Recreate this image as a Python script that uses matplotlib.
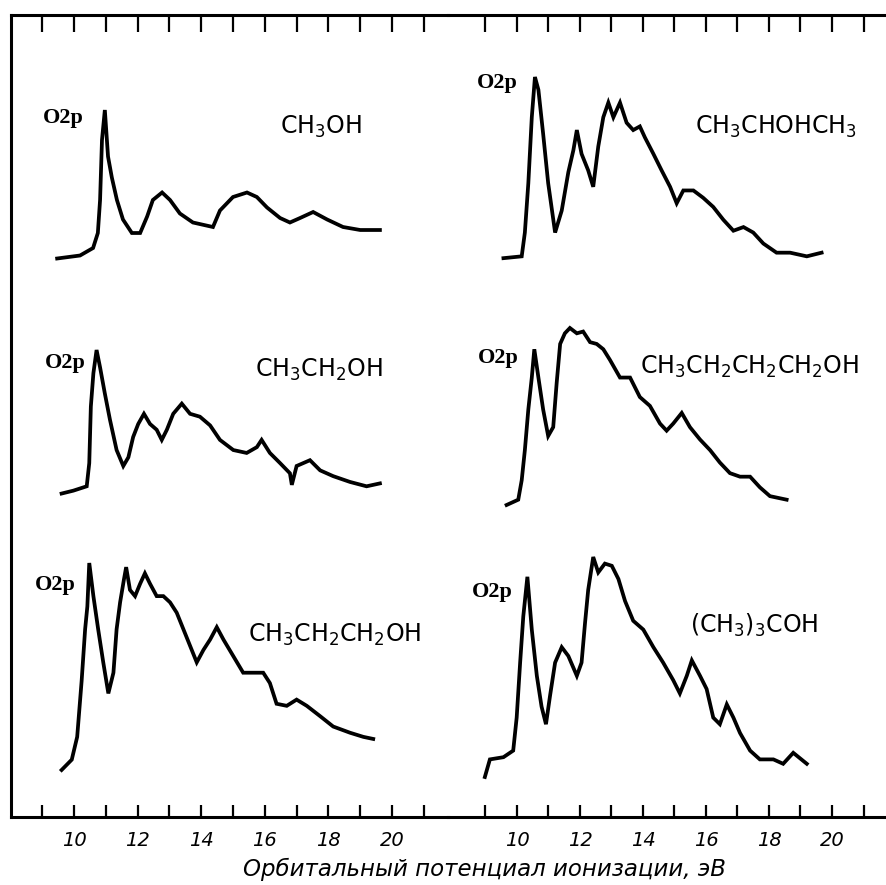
import numpy as np
import matplotlib.pyplot as plt
from matplotlib import font_manager

# narrow face for labels if the system has one
names = {f.name for f in font_manager.fontManager.ttflist}
narrow = 'Liberation Sans Narrow' if 'Liberation Sans Narrow' in names else 'DejaVu Sans'
plt.rcParams['mathtext.fontset'] = 'custom'
plt.rcParams['mathtext.rm'] = narrow
plt.rcParams['mathtext.bf'] = narrow + ':bold'

# photoelectron spectra, energy (eV) and relative intensity
e_ch3oh = [9.47, 10.19, 10.60, 10.75, 10.82, 10.88, 10.97, 11.07, 11.19, 11.35, 11.54, 11.82,
           12.08, 12.30, 12.48, 12.77, 13.02, 13.33, 13.74, 14.37, 14.59, 15.00, 15.44, 15.75,
           16.07, 16.48, 16.79, 17.11, 17.52, 17.96, 18.46, 19.00, 19.62]
i_ch3oh = [0.01, 0.03, 0.08, 0.18, 0.40, 0.80, 1.00, 0.69, 0.55, 0.40, 0.27, 0.18,
           0.18, 0.29, 0.40, 0.45, 0.40, 0.31, 0.25, 0.22, 0.33, 0.42, 0.45, 0.42,
           0.35, 0.28, 0.25, 0.28, 0.32, 0.27, 0.22, 0.20, 0.20]

e_ipa = [9.57, 10.15, 10.25, 10.36, 10.47, 10.57, 10.68, 10.83, 10.99, 11.21, 11.42, 11.63,
         11.79, 11.90, 12.05, 12.26, 12.42, 12.58, 12.74, 12.90, 13.06, 13.27, 13.48, 13.69,
         13.90, 14.06, 14.33, 14.59, 14.86, 15.07, 15.28, 15.60, 15.91, 16.23, 16.55, 16.87,
         17.19, 17.50, 17.82, 18.24, 18.67, 19.20, 19.67]
i_ipa = [0.01, 0.02, 0.15, 0.42, 0.78, 1.00, 0.93, 0.69, 0.42, 0.15, 0.27, 0.48,
         0.60, 0.71, 0.58, 0.49, 0.40, 0.62, 0.78, 0.86, 0.78, 0.86, 0.75, 0.71,
         0.73, 0.67, 0.58, 0.49, 0.40, 0.31, 0.38, 0.38, 0.34, 0.29, 0.22, 0.16,
         0.18, 0.15, 0.09, 0.04, 0.04, 0.02, 0.04]

e_etoh = [9.61, 9.98, 10.40, 10.48, 10.53, 10.61, 10.71, 10.82, 10.97, 11.13, 11.34, 11.55,
          11.71, 11.86, 12.02, 12.20, 12.39, 12.60, 12.76, 12.92, 13.12, 13.39, 13.65, 13.96,
          14.28, 14.59, 15.01, 15.43, 15.75, 15.90, 16.16, 16.48, 16.79, 16.85, 17.00, 17.42,
          17.74, 18.15, 18.68, 19.20, 19.62]
i_etoh = [0.01, 0.03, 0.06, 0.22, 0.61, 0.84, 1.00, 0.88, 0.70, 0.52, 0.31, 0.20,
          0.26, 0.40, 0.49, 0.56, 0.49, 0.45, 0.38, 0.45, 0.56, 0.63, 0.56, 0.54,
          0.48, 0.38, 0.31, 0.29, 0.33, 0.38, 0.29, 0.22, 0.15, 0.07, 0.20, 0.24,
          0.17, 0.13, 0.09, 0.06, 0.08]

e_buoh = [9.67, 10.04, 10.15, 10.25, 10.36, 10.47, 10.55, 10.68, 10.83, 10.99, 11.15, 11.26,
          11.37, 11.52, 11.68, 11.90, 12.10, 12.32, 12.53, 12.74, 12.95, 13.27, 13.59, 13.90,
          14.22, 14.54, 14.75, 14.96, 15.23, 15.49, 15.81, 16.13, 16.44, 16.76, 17.08, 17.40,
          17.71, 18.03, 18.56]
i_buoh = [0.00, 0.03, 0.14, 0.31, 0.54, 0.72, 0.88, 0.72, 0.54, 0.39, 0.44, 0.69,
          0.91, 0.97, 1.00, 0.97, 0.98, 0.92, 0.91, 0.88, 0.82, 0.72, 0.72, 0.61,
          0.56, 0.46, 0.42, 0.46, 0.52, 0.44, 0.37, 0.31, 0.24, 0.18, 0.16, 0.16,
          0.10, 0.05, 0.03]

e_proh = [9.61, 9.93, 10.10, 10.24, 10.35, 10.42, 10.48, 10.61, 10.76, 10.92, 11.08, 11.24,
          11.34, 11.45, 11.57, 11.64, 11.76, 11.92, 12.08, 12.23, 12.39, 12.60, 12.81, 13.02,
          13.23, 13.44, 13.65, 13.86, 14.07, 14.28, 14.49, 14.70, 15.01, 15.32, 15.64, 15.95,
          16.16, 16.37, 16.69, 17.00, 17.32, 17.74, 18.15, 18.68, 19.10, 19.41]
i_proh = [0.00, 0.05, 0.16, 0.43, 0.68, 0.79, 1.00, 0.84, 0.68, 0.52, 0.37, 0.47,
          0.68, 0.81, 0.92, 0.98, 0.87, 0.84, 0.90, 0.95, 0.90, 0.84, 0.84, 0.81,
          0.76, 0.68, 0.60, 0.52, 0.58, 0.63, 0.69, 0.63, 0.55, 0.47, 0.47, 0.47,
          0.42, 0.32, 0.31, 0.34, 0.31, 0.26, 0.21, 0.18, 0.16, 0.15]

e_tbuoh = [8.98, 9.14, 9.57, 9.88, 9.99, 10.10, 10.20, 10.33, 10.47, 10.63, 10.78, 10.92,
           11.05, 11.21, 11.42, 11.63, 11.90, 12.05, 12.16, 12.26, 12.42, 12.58, 12.79, 13.01,
           13.22, 13.43, 13.69, 14.01, 14.33, 14.64, 14.96, 15.17, 15.39, 15.55, 15.81, 16.02,
           16.23, 16.44, 16.66, 16.87, 17.08, 17.40, 17.71, 18.14, 18.45, 18.77, 19.20]
i_tbuoh = [0.00, 0.08, 0.09, 0.12, 0.27, 0.52, 0.73, 0.91, 0.67, 0.46, 0.32, 0.24,
           0.37, 0.52, 0.59, 0.55, 0.46, 0.52, 0.70, 0.85, 1.00, 0.93, 0.97, 0.96,
           0.90, 0.80, 0.71, 0.67, 0.59, 0.52, 0.44, 0.38, 0.46, 0.53, 0.46, 0.40,
           0.27, 0.24, 0.33, 0.27, 0.20, 0.12, 0.08, 0.08, 0.06, 0.11, 0.06]

labels = ['CH$_3$OH', 'CH$_3$CHOHCH$_3$', 'CH$_3$CH$_2$OH',
          'CH$_3$CH$_2$CH$_2$CH$_2$OH', 'CH$_3$CH$_2$CH$_2$OH', '(CH$_3$)$_3$COH']
spectra = [(e_ch3oh, i_ch3oh), (e_ipa, i_ipa), (e_etoh, i_etoh),
           (e_buoh, i_buoh), (e_proh, i_proh), (e_tbuoh, i_tbuoh)]

W, H = 887, 885
fig = plt.figure(figsize=(W / 100, H / 100), dpi=100)

def rect(x0, y0, x1, y1):
    # pixel box (top-left origin) -> figure fraction
    return [x0 / W, 1 - y1 / H, (x1 - x0) / W, (y1 - y0) / H]

top, bot = 15, 817
cols = [dict(x0=11, x1=448, xlim=(8.019, 21.761)),
        dict(x0=448, x1=887, xlim=(7.810, 21.746))]

for k, c in enumerate(cols):
    ax = fig.add_axes(rect(c['x0'], top, c['x1'], bot))
    ax.set_xlim(*c['xlim'])
    ax.set_ylim(0, 1)
    ax.patch.set_alpha(0)
    for s in ['top', 'bottom', 'left', 'right']:
        ax.spines[s].set_linewidth(2.2)
    ax.spines['right'].set_visible(False)
    ax.spines['left'].set_visible(k == 0)
    ax.set_yticks([])
    ax.set_xticks(np.arange(9, 22))
    ax.set_xticklabels(['' if v % 2 else str(v) for v in range(9, 22)],
                       family=narrow, style='italic', fontsize=14)
    ax.xaxis.set_ticks_position('both')
    ax.tick_params(axis='x', direction='in', width=1.6, pad=10)
    # top ticks hang a little further than the bottom ones
    for t in ax.xaxis.get_major_ticks():
        t.tick1line.set_markersize(9)
        t.tick2line.set_markersize(12)

# panel boxes: (column, I=0 pixel row, I=1 pixel row)
panels = [(0, 260, 110), (1, 260, 77), (0, 495, 350),
          (1, 505, 328), (0, 770, 563), (1, 777, 557)]

for (col, y0, y1), (e, inten) in zip(panels, spectra):
    c = cols[col]
    pa = fig.add_axes(rect(c['x0'], y1, c['x1'], y0))
    pa.set_xlim(*c['xlim'])
    pa.set_ylim(0, 1)
    pa.plot(e, inten, color='black', lw=2.7, solid_joinstyle='miter', clip_on=False)
    pa.axis('off')

# O2p markers and molecule names (pixel anchors, left edge / vertical centre)
o2p_pos = [(43, 118), (477, 83), (45, 363), (478, 358), (35, 585), (472, 592)]
name_pos = [(280, 127), (695, 127), (255, 370), (640, 367), (248, 635), (690, 625)]

for (x, y) in o2p_pos:
    fig.text(x / W, 1 - y / H, 'O2p', family='Liberation Serif', weight='bold',
             fontsize=16, ha='left', va='center')
for (x, y), lab in zip(name_pos, labels):
    fig.text(x / W, 1 - y / H, lab, family=narrow, fontsize=17, ha='left', va='center')

fig.text(485 / W, 1 - 869 / H, 'Орбитальный потенциал ионизации, эВ',
         family='DejaVu Sans', style='italic', fontsize=16.5, ha='center', va='center')

plt.savefig('out.png', dpi=100)
